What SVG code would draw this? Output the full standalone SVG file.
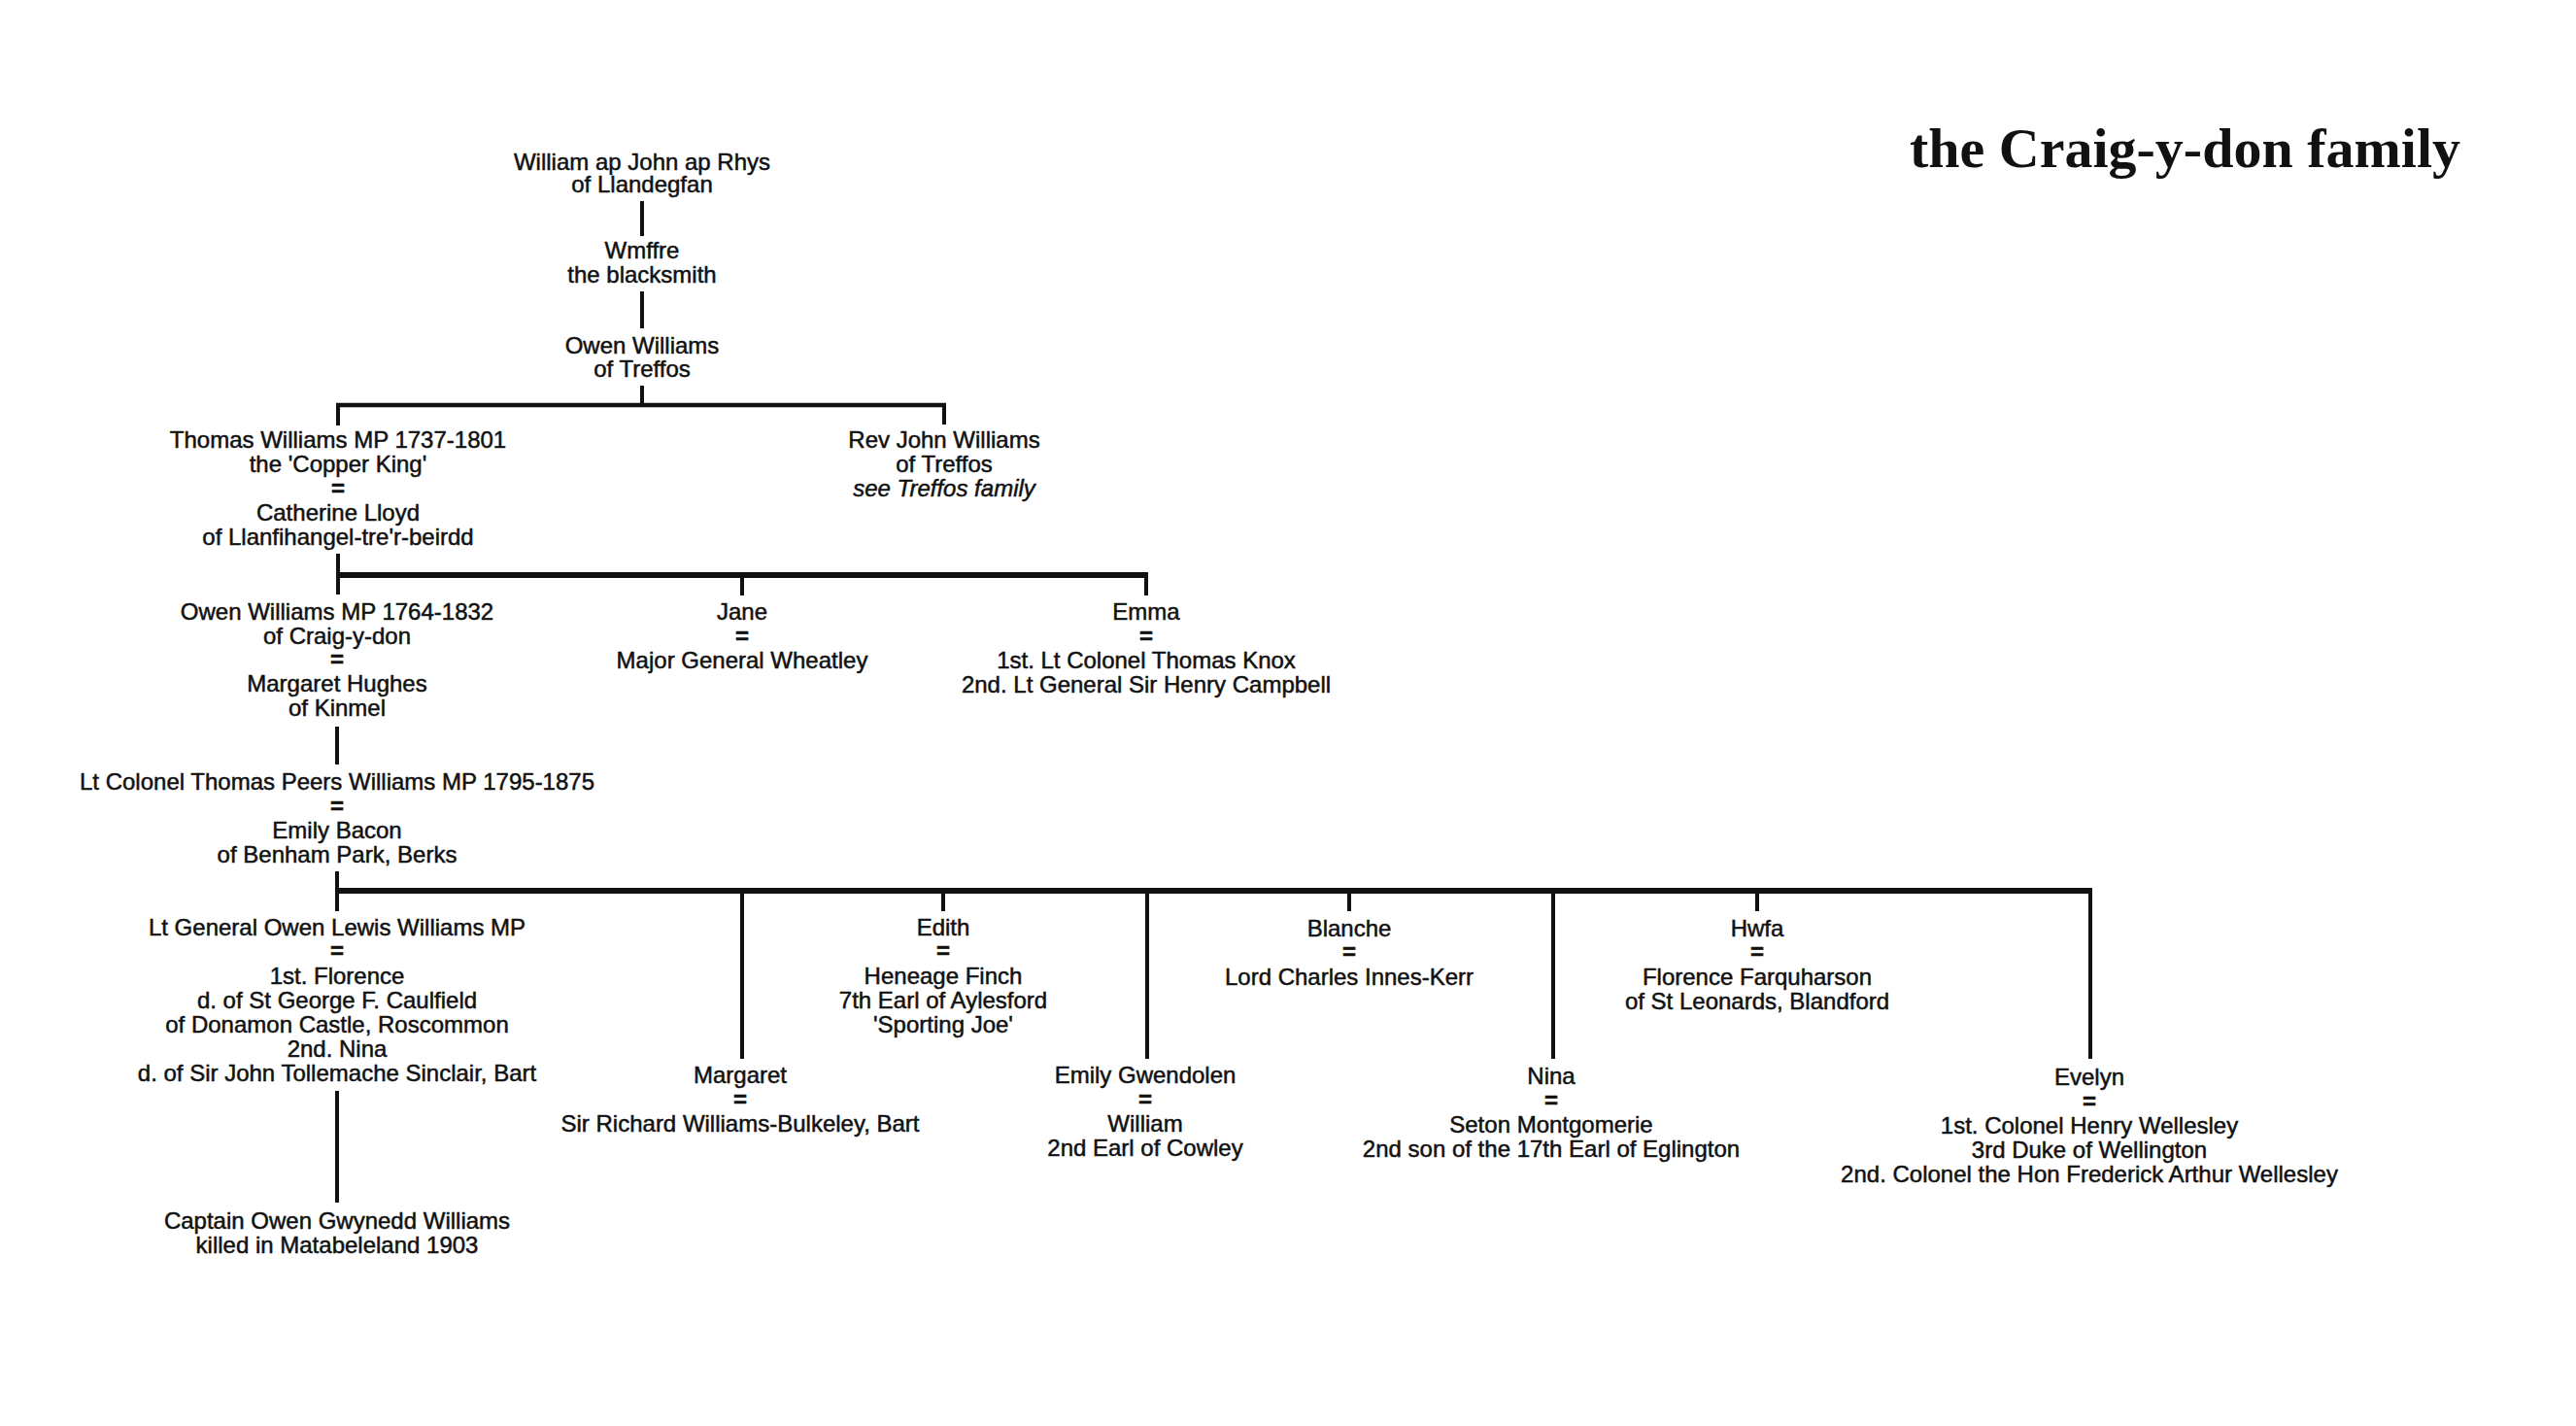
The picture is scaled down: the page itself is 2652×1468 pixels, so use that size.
<svg xmlns="http://www.w3.org/2000/svg" width="2652" height="1468" viewBox="0 0 2652 1468">
<style>
  .t { font-family: "Liberation Sans", Arial, sans-serif; font-size: 24px; fill: #111; stroke: #111; stroke-width: 0.5; text-anchor: middle; }
  .i { font-style: italic; }
  .eq { font-weight: bold; }
  .title { font-family: "Liberation Serif", "Times New Roman", serif; font-size: 58px; font-weight: bold; fill: #111; }
  .v { stroke: #111; stroke-width: 4; fill: none; }
  .bar { stroke: #111; stroke-width: 6; fill: none; }
  .bar1 { stroke: #111; stroke-width: 4.5; fill: none; }
</style>
<rect x="0" y="0" width="2652" height="1468" fill="#ffffff"/>
<text id="title" class="title" x="1966" y="172">the Craig-y-don family</text>

<g id="connectors">
  <line class="v" x1="661" y1="207" x2="661" y2="243"/>
  <line class="v" x1="661" y1="300" x2="661" y2="338"/>
  <line class="v" x1="661" y1="397" x2="661" y2="417"/>
  <line class="bar1" x1="346" y1="417" x2="974" y2="417"/>
  <line class="v" x1="348" y1="417" x2="348" y2="438"/>
  <line class="v" x1="972" y1="417" x2="972" y2="437"/>

  <line class="v" x1="348" y1="570" x2="348" y2="612"/>
  <line class="bar" x1="346" y1="592" x2="1182" y2="592"/>
  <line class="v" x1="764" y1="592" x2="764" y2="613"/>
  <line class="v" x1="1180" y1="592" x2="1180" y2="613"/>

  <line class="v" x1="347" y1="748" x2="347" y2="787"/>

  <line class="v" x1="347" y1="897" x2="347" y2="938"/>
  <line class="bar" x1="345" y1="917" x2="2154" y2="917"/>
  <line class="v" x1="764" y1="917" x2="764" y2="1090"/>
  <line class="v" x1="971" y1="917" x2="971" y2="938"/>
  <line class="v" x1="1181" y1="917" x2="1181" y2="1090"/>
  <line class="v" x1="1389" y1="917" x2="1389" y2="938"/>
  <line class="v" x1="1599" y1="917" x2="1599" y2="1090"/>
  <line class="v" x1="1809" y1="917" x2="1809" y2="938"/>
  <line class="v" x1="2152" y1="917" x2="2152" y2="1090"/>

  <line class="v" x1="347" y1="1123" x2="347" y2="1238"/>
</g>

<g id="william-ap-john">
  <text class="t" x="661" y="175">William ap John ap Rhys</text>
  <text class="t" x="661" y="198">of Llandegfan</text>
</g>
<g id="wmffre">
  <text class="t" x="661" y="266">Wmffre</text>
  <text class="t" x="661" y="291">the blacksmith</text>
</g>
<g id="owen-williams-treffos">
  <text class="t" x="661" y="364">Owen Williams</text>
  <text class="t" x="661" y="388">of Treffos</text>
</g>

<g id="thomas-williams">
  <text class="t" x="348" y="461">Thomas Williams MP 1737-1801</text>
  <text class="t" x="348" y="486">the 'Copper King'</text>
  <text class="t eq" x="348" y="511">=</text>
  <text class="t" x="348" y="536">Catherine Lloyd</text>
  <text class="t" x="348" y="561">of Llanfihangel-tre'r-beirdd</text>
</g>
<g id="rev-john-williams">
  <text class="t" x="972" y="461">Rev John Williams</text>
  <text class="t" x="972" y="486">of Treffos</text>
  <text class="t i" x="972" y="511">see Treffos family</text>
</g>

<g id="owen-williams-mp">
  <text class="t" x="347" y="638">Owen Williams MP 1764-1832</text>
  <text class="t" x="347" y="663">of Craig-y-don</text>
  <text class="t eq" x="347" y="687">=</text>
  <text class="t" x="347" y="712">Margaret Hughes</text>
  <text class="t" x="347" y="737">of Kinmel</text>
</g>
<g id="jane">
  <text class="t" x="764" y="638">Jane</text>
  <text class="t eq" x="764" y="663">=</text>
  <text class="t" x="764" y="688">Major General Wheatley</text>
</g>
<g id="emma">
  <text class="t" x="1180" y="638">Emma</text>
  <text class="t eq" x="1180" y="663">=</text>
  <text class="t" x="1180" y="688">1st. Lt Colonel Thomas Knox</text>
  <text class="t" x="1180" y="713">2nd. Lt General Sir Henry Campbell</text>
</g>

<g id="thomas-peers-williams">
  <text class="t" x="347" y="813">Lt Colonel Thomas Peers Williams MP 1795-1875</text>
  <text class="t eq" x="347" y="838">=</text>
  <text class="t" x="347" y="863">Emily Bacon</text>
  <text class="t" x="347" y="888">of Benham Park, Berks</text>
</g>

<g id="owen-lewis-williams">
  <text class="t" x="347" y="963">Lt General Owen Lewis Williams MP</text>
  <text class="t eq" x="347" y="987">=</text>
  <text class="t" x="347" y="1013">1st. Florence</text>
  <text class="t" x="347" y="1038">d. of St George F. Caulfield</text>
  <text class="t" x="347" y="1063">of Donamon Castle, Roscommon</text>
  <text class="t" x="347" y="1088">2nd. Nina</text>
  <text class="t" x="347" y="1113">d. of Sir John Tollemache Sinclair, Bart</text>
</g>
<g id="owen-gwynedd-williams">
  <text class="t" x="347" y="1265">Captain Owen Gwynedd Williams</text>
  <text class="t" x="347" y="1290">killed in Matabeleland 1903</text>
</g>

<g id="edith">
  <text class="t" x="971" y="963">Edith</text>
  <text class="t eq" x="971" y="987">=</text>
  <text class="t" x="971" y="1013">Heneage Finch</text>
  <text class="t" x="971" y="1038">7th Earl of Aylesford</text>
  <text class="t" x="971" y="1063">'Sporting Joe'</text>
</g>
<g id="blanche">
  <text class="t" x="1389" y="964">Blanche</text>
  <text class="t eq" x="1389" y="988">=</text>
  <text class="t" x="1389" y="1014">Lord Charles Innes-Kerr</text>
</g>
<g id="hwfa">
  <text class="t" x="1809" y="964">Hwfa</text>
  <text class="t eq" x="1809" y="988">=</text>
  <text class="t" x="1809" y="1014">Florence Farquharson</text>
  <text class="t" x="1809" y="1039">of St Leonards, Blandford</text>
</g>

<g id="margaret">
  <text class="t" x="762" y="1115">Margaret</text>
  <text class="t eq" x="762" y="1140">=</text>
  <text class="t" x="762" y="1165">Sir Richard Williams-Bulkeley, Bart</text>
</g>
<g id="emily-gwendolen">
  <text class="t" x="1179" y="1115">Emily Gwendolen</text>
  <text class="t eq" x="1179" y="1140">=</text>
  <text class="t" x="1179" y="1165">William</text>
  <text class="t" x="1179" y="1190">2nd Earl of Cowley</text>
</g>
<g id="nina">
  <text class="t" x="1597" y="1116">Nina</text>
  <text class="t eq" x="1597" y="1141">=</text>
  <text class="t" x="1597" y="1166">Seton Montgomerie</text>
  <text class="t" x="1597" y="1191">2nd son of the 17th Earl of Eglington</text>
</g>
<g id="evelyn">
  <text class="t" x="2151" y="1117">Evelyn</text>
  <text class="t eq" x="2151" y="1142">=</text>
  <text class="t" x="2151" y="1167">1st. Colonel Henry Wellesley</text>
  <text class="t" x="2151" y="1192">3rd Duke of Wellington</text>
  <text class="t" x="2151" y="1217">2nd. Colonel the Hon Frederick Arthur Wellesley</text>
</g>
</svg>
